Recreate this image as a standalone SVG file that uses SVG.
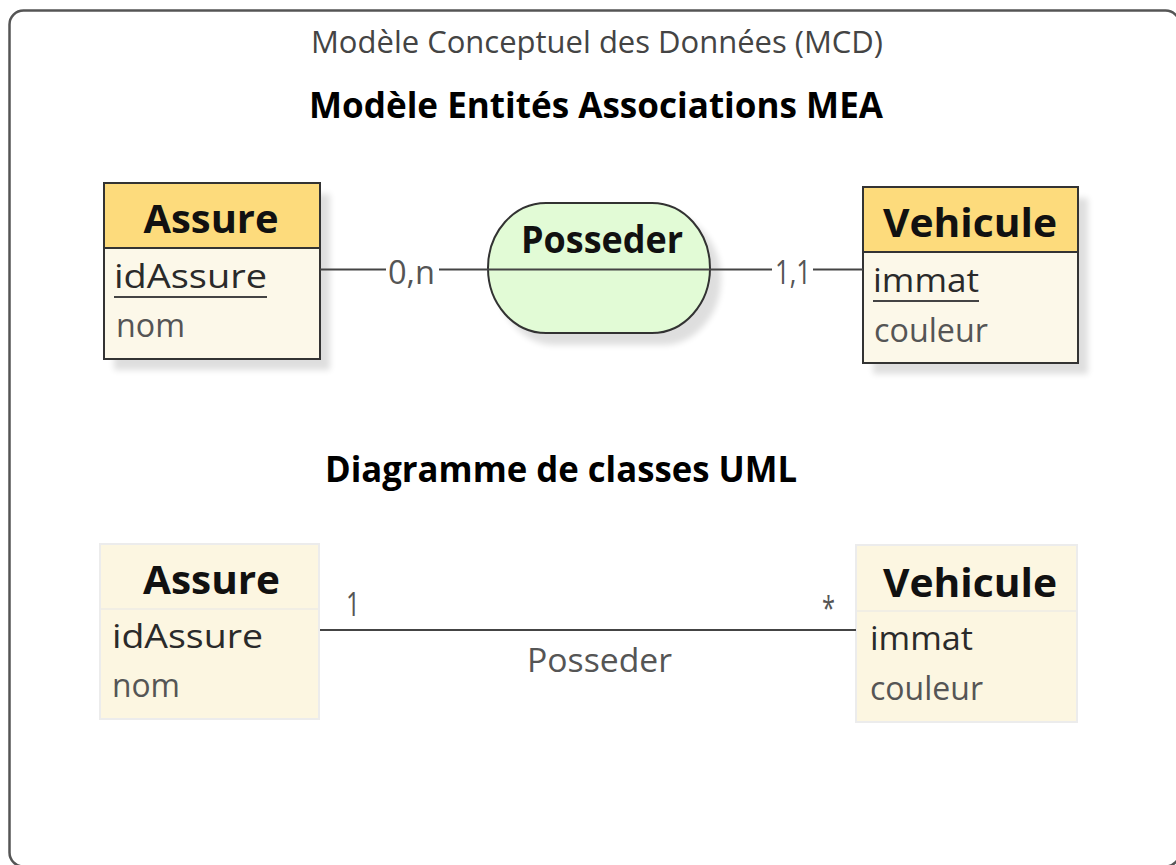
<svg xmlns="http://www.w3.org/2000/svg" width="1176" height="865" viewBox="0 0 1176 865">
<defs>
<filter id="sh" x="-10%" y="-10%" width="130%" height="130%">
<feGaussianBlur in="SourceAlpha" stdDeviation="3"/>
<feOffset dx="10" dy="11" result="o"/>
<feComponentTransfer><feFuncA type="linear" slope="0.13"/></feComponentTransfer>
<feMerge><feMergeNode/><feMergeNode in="SourceGraphic"/></feMerge>
</filter>
<style>
text{font-family:"Open Sans","Noto Sans","DejaVu Sans",sans-serif}
.t1{font-size:31px;fill:#444}
.tb{font-size:36px;font-weight:bold;fill:#000}
.hd{font-size:40px;font-weight:bold;fill:#111;text-anchor:middle}
.at{font-size:32px;fill:#2a2a2a}
.at2{font-size:32px;fill:#555}
.lb{font-size:32px;fill:#555}
.ent{stroke:#333;stroke-width:2}
.hdr{fill:#FDDB7C}
.bdy{fill:#FCF8E9}
.cls{fill:#FCF6E1;stroke:#ECECEC;stroke-width:2}
.ln{stroke:#444;stroke-width:2;fill:none}
</style>
</defs>
<rect x="9.5" y="10.5" width="1170" height="856" rx="14" fill="#fff" stroke="#555" stroke-width="2.5"/>
<text class="t1" x="311" y="53" textLength="572" lengthAdjust="spacingAndGlyphs">Modèle Conceptuel des Données (MCD)</text>
<text class="tb" x="309" y="118" textLength="574" lengthAdjust="spacingAndGlyphs">Modèle Entités Associations MEA</text>
<text class="tb" x="325" y="482" textLength="472" lengthAdjust="spacingAndGlyphs">Diagramme de classes UML</text>

<g id="mea-assure">
<g filter="url(#sh)">
<rect x="104" y="183" width="216" height="176" class="bdy"/>
</g>
<rect x="104" y="183" width="216" height="65" class="hdr"/>
<rect x="104" y="183" width="216" height="176" fill="none" class="ent"/>
<line x1="104" y1="248" x2="320" y2="248" class="ent"/>
<text class="hd" x="211" y="233" textLength="135" lengthAdjust="spacingAndGlyphs">Assure</text>
<text class="at" x="114" y="288" textLength="153" lengthAdjust="spacingAndGlyphs">idAssure</text>
<line x1="114" y1="297" x2="267" y2="297" stroke="#444" stroke-width="2"/>
<text class="at2" x="116" y="337" textLength="69" lengthAdjust="spacingAndGlyphs">nom</text>
</g>

<g id="mea-posseder">
<rect x="488" y="203" width="222" height="130" rx="58" ry="65" fill="#E2FBD6" stroke="#333" stroke-width="2" filter="url(#sh)"/>
<text class="hd" x="602" y="253" style="font-size:38px" textLength="162" lengthAdjust="spacingAndGlyphs">Posseder</text>
</g>

<g id="mea-vehicule">
<g filter="url(#sh)">
<rect x="863" y="187" width="215" height="176" class="bdy"/>
</g>
<rect x="863" y="187" width="215" height="65" class="hdr"/>
<rect x="863" y="187" width="215" height="176" fill="none" class="ent"/>
<line x1="863" y1="252" x2="1078" y2="252" class="ent"/>
<text class="hd" x="970" y="237" textLength="174" lengthAdjust="spacingAndGlyphs">Vehicule</text>
<text class="at" x="873" y="292" textLength="106" lengthAdjust="spacingAndGlyphs">immat</text>
<line x1="873" y1="301" x2="979" y2="301" stroke="#444" stroke-width="2"/>
<text class="at2" x="874" y="342" textLength="114" lengthAdjust="spacingAndGlyphs">couleur</text>
</g>

<g id="uml-assure">
<rect x="100" y="544" width="219" height="175" class="cls"/>
<line x1="101" y1="609" x2="318" y2="609" stroke="#F1EEE4" stroke-width="2"/>
<text class="hd" x="211.5" y="594" textLength="137" lengthAdjust="spacingAndGlyphs">Assure</text>
<text class="at" x="112" y="648" textLength="151" lengthAdjust="spacingAndGlyphs">idAssure</text>
<text class="at2" x="112" y="697" textLength="68" lengthAdjust="spacingAndGlyphs">nom</text>
</g>

<g id="uml-vehicule">
<rect x="856" y="545" width="221" height="177" class="cls"/>
<line x1="857" y1="611" x2="1076" y2="611" stroke="#F1EEE4" stroke-width="2"/>
<text class="hd" x="970" y="597" textLength="174" lengthAdjust="spacingAndGlyphs">Vehicule</text>
<text class="at" x="870" y="650" textLength="103" lengthAdjust="spacingAndGlyphs">immat</text>
<text class="at2" x="870" y="700" textLength="113" lengthAdjust="spacingAndGlyphs">couleur</text>
</g>

<g id="connectors">
<line x1="320" y1="269.5" x2="386" y2="269.5" class="ln"/>
<line x1="439" y1="269.5" x2="772" y2="269.5" class="ln"/>
<line x1="813" y1="269.5" x2="863" y2="269.5" class="ln"/>
<text class="lb" x="388" y="284" textLength="47" lengthAdjust="spacingAndGlyphs">0,n</text>
<text class="lb" x="775" y="284" textLength="36" lengthAdjust="spacingAndGlyphs">1,1</text>
<line x1="320" y1="630" x2="856" y2="630" class="ln"/>
<text class="lb" x="346" y="616" textLength="14" lengthAdjust="spacingAndGlyphs">1</text>
<text class="lb" x="822" y="620" textLength="13" lengthAdjust="spacingAndGlyphs">*</text>
<text class="lb" x="527" y="672" textLength="145" lengthAdjust="spacingAndGlyphs">Posseder</text>
</g>
</svg>
